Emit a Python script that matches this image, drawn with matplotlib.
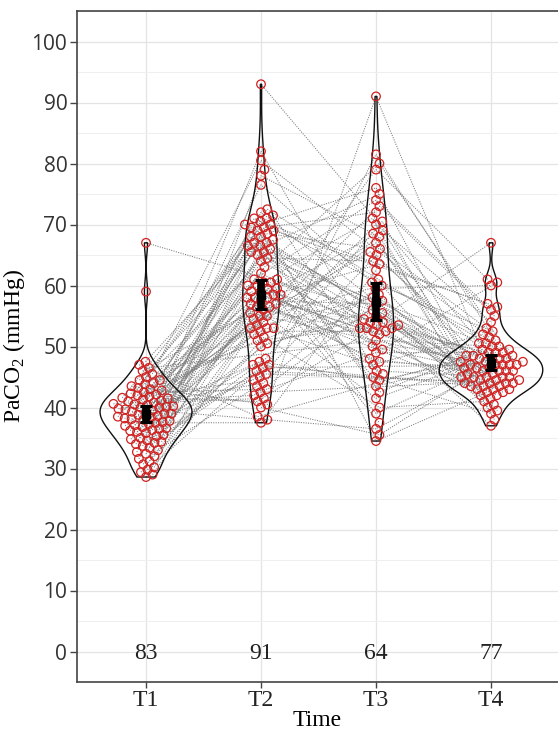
import numpy as np
import matplotlib
matplotlib.use('Agg')
import matplotlib.pyplot as plt
from matplotlib.ticker import MultipleLocator

plt.rcParams['mathtext.fontset'] = 'custom'
plt.rcParams['mathtext.rm'] = 'Liberation Serif'

# PaCO2 per subject at each time point (None = not measured)
times = ['T1', 'T2', 'T3', 'T4']
t1 = [38.5, 42.3, None, 35.3, 40.5, 44.5, 39.2, 31.2, 41.5, 37.1,
      43.2, 38.1, 36.6, None, 40.1, 47.5, 39.5, 33.4, 41.1, 38.2,
      36.2, 45.5, 42.5, 39, None, 37.6, 40.2, 34.2, 41.6, 38.6,
      59, 36.5, 43.5, 40, 38, 29.4, 42.1, 39.3, 37, None,
      41.3, 35.5, 44.5, 38.4, 40.6, 32.4, 39.7, 36, 42, None,
      37.5, 40.4, 46, 39.8, None, 41, 39, 67, 36.3, 43,
      None, 38.8, 40.8, 35, 42.8, 36.8, 30.7, 32.7, 41.8, 34.8,
      None, 40, 29, 45, 37.3, 33, 44, 34.4, None, 34.6,
      43.8, 33.7, 47, 34, 30.2, 28.6, None, 46.5, 37.8, 29.8,
      None, 35.8, 32, 31.6, None]
t2 = [66, 58, 45, 71, 53, None, 60, 69.5, 41, 56.5,
      72.5, 47, 59.5, 64, 52, 68, 38, 57.5, 70, 55,
      62, 80.5, 43, 58.5, 67, 50.5, 61, 46, 69, 54.5,
      None, 65.5, 40.5, 59, 71.5, 53, 44.5, 68.5, 57, 93,
      60.5, 48, 66.5, 56, 42, 70.5, 58, 63, 51, 79,
      37.5, 67.5, 55.5, 44, 60, 71, 47.5, None, 65, 59.5,
      52.5, 69.5, 41.5, 58, 76.5, 45.5, 57, 66.5, 54, 61,
      40, 68, 56.5, 64.5, 82, 43.5, 59, 50, 70, 47,
      53.5, 72, 38.5, 67, 55, 60.5, 42.5, None, 78, 46.5,
      65.5, 58.5, 51.5, 69, 53]
t3 = [None, 53, 65, None, 47, 58.5, None, 72, 54, None,
      61, None, 45.5, 53.5, 79, None, 36.5, 57, None, 68,
      52.5, None, 49, 63.5, None, 55, 74, None, 43.5, 60,
      None, 53, 91, None, 46, 58, None, 66, 54.5, None,
      39, 70.5, None, 52, 57.5, None, 48, 80, 53.5, None,
      62.5, 34.5, None, 59.5, 71, None, 44.5, 55.5, None, 69,
      52.5, 76, None, 47.5, 60.5, None, 41.5, 54, 67, None,
      35.5, 53, None, 64, 50, 81.5, None, 56, 42.5, None,
      73, None, None, 45, 65.5, 37.5, None, 51, 68.5, None,
      75, 49.5, 40, None, 70]
t4 = [47, None, 44, 49.5, 52, 45.5, 48, None, 42.5, None,
      50, 43, None, 47.5, 61, 44.5, 48.5, 40, None, 46.5,
      45, 51.5, 49, None, 43.5, 47, 56, 44, 48, 39.5,
      None, 46, 50.5, 42, 45, 47.5, None, 53, 43, 49,
      46.5, 38, 48.5, None, 44.5, 57, 45.5, 47, 41.5, None,
      None, 42.5, 46, 60, 44, None, 48, 45, 50.5, 43.5,
      37, 47, None, 46.5, 52.5, 44, 49, None, 45, 40.5,
      48, 67, 43, None, 46, 51, 47.5, 42, 49.5, None,
      55, 45, 48.5, 39, 46, None, 44.5, 50, 43.5, 47,
      None, 60.5, 41, 56.5, 54]

cols = [t1, t2, t3, t4]
data = np.array([[np.nan if v is None else v for v in c] for c in cols])  # 4 x subjects

fig = plt.figure(figsize=(5.58, 7.30), dpi=100)
ax = fig.add_axes([77 / 558, 48 / 730, 481 / 558, 671 / 730])
ax.set_xlim(0.4, 0.4 + 481 / 115)
ax.set_ylim(-5, 105)

# pixels per data unit
sx = 115
sy = 671 / 110
diam = 7.0  # spacing of circles in px (they overlap a little)


def swarm(vals):
    # simple compact beeswarm in pixel space
    ys = vals * sy
    off = np.zeros(len(vals))
    placed = []
    for i in np.argsort(vals):
        y = ys[i]
        near = [(px, py) for px, py in placed if abs(py - y) < diam]
        cands = [0.0]
        for px, py in near:
            h = np.sqrt(diam ** 2 - (py - y) ** 2)
            cands += [px + h, px - h]
        cands.sort(key=abs)
        for c in cands:
            if all((c - px) ** 2 + (y - py) ** 2 >= diam ** 2 - 1e-6 for px, py in near):
                break
        placed.append((c, y))
        off[i] = c
    return off / sx


xpos = np.full(data.shape, np.nan)
for k in range(4):
    ok = ~np.isnan(data[k])
    xpos[k, ok] = k + 1 + swarm(data[k, ok])

# paired lines per subject
for s in range(data.shape[1]):
    ok = ~np.isnan(data[:, s])
    if ok.sum() > 1:
        ax.plot(xpos[ok, s], data[ok, s], color='#7a7a7a', lw=0.75,
                linestyle=(0, (1, 1.3)), zorder=1)


def kde(v):
    n = len(v)
    sd = v.std(ddof=1)
    q75, q25 = np.percentile(v, [75, 25])
    bw = 0.9 * min(sd, (q75 - q25) / 1.34) * n ** -0.2
    y = np.linspace(v.min(), v.max(), 512)
    d = np.exp(-0.5 * ((y[:, None] - v[None, :]) / bw) ** 2).sum(1) / (n * bw * np.sqrt(2 * np.pi))
    return y, d


dens = [kde(data[k][~np.isnan(data[k])]) for k in range(4)]
dmax = max(d.max() for _, d in dens)
for k, (y, d) in enumerate(dens):
    w = d / dmax * 0.45
    ax.fill(np.r_[k + 1 - w, (k + 1 + w)[::-1]], np.r_[y, y[::-1]],
            facecolor='none', edgecolor='#111111', lw=1.0, zorder=2)

for k in range(4):
    ok = ~np.isnan(data[k])
    ax.scatter(xpos[k, ok], data[k, ok], s=38, facecolors='none',
               edgecolors='#d02020', linewidths=0.9, zorder=3)
    v = data[k, ok]
    m = v.mean()
    ci = 1.96 * v.std(ddof=1) / np.sqrt(len(v))
    ax.errorbar(k + 1, m, yerr=ci, fmt='s', color='black', ms=5.5,
                elinewidth=5.5, capsize=4, capthick=2.2, zorder=5)
    ax.text(k + 1, -0.3, str(ok.sum()), ha='center', va='center',
            fontsize=17, family='Liberation Serif', color='#222222')

ax.set_xticks(range(1, 5))
ax.set_xticklabels(times, fontsize=17, family='Liberation Serif')
ax.set_yticks(np.arange(0, 101, 10))
ax.yaxis.set_minor_locator(MultipleLocator(5))
for lbl in ax.get_yticklabels():
    lbl.set_fontfamily('Open Sans')
    lbl.set_fontsize(15)
    lbl.set_color('#333333')
ax.tick_params(axis='y', length=5, width=1, color='#444444', pad=2)
ax.tick_params(axis='x', length=4, width=1, color='#444444', pad=2, labelcolor='#222222')
ax.tick_params(which='minor', length=0)

ax.grid(which='major', color='#e4e4e4', lw=0.9)
ax.grid(which='minor', axis='y', color='#efefef', lw=0.7)
ax.set_axisbelow(True)

for side in ['left', 'bottom', 'top']:
    ax.spines[side].set_color('#444444')
    ax.spines[side].set_linewidth(1.2)
ax.spines['right'].set_visible(False)

ax.set_xlabel('Time', fontsize=17, family='Liberation Serif', labelpad=-1)
ax.set_ylabel('PaCO$_\\mathrm{2}$ (mmHg)', fontsize=17, family='Liberation Serif', labelpad=3)

fig.savefig('out.png', dpi=100)
